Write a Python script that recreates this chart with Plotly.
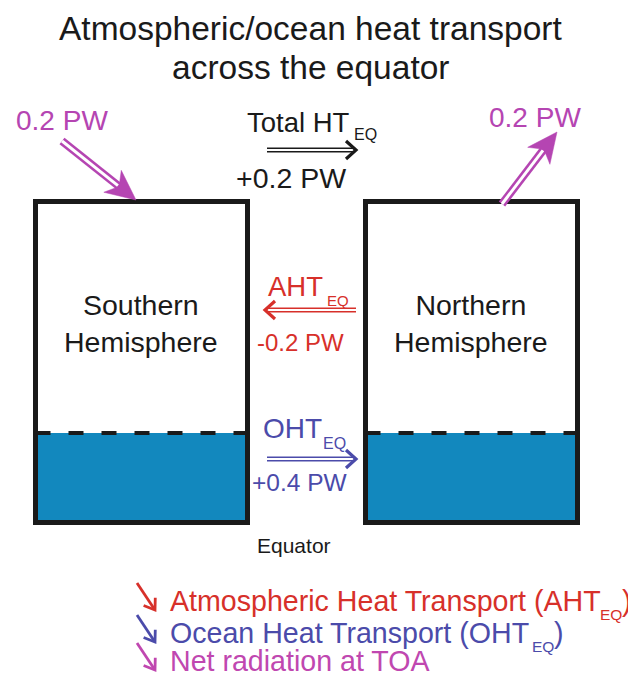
import plotly.graph_objects as go
import math

# ---------------- data ----------------
title_lines = ["Atmospheric/ocean heat transport", "across the equator"]
regions = ["Southern<br>Hemisphere", "Northern<br>Hemisphere"]
transport_names = ["Total HT", "AHT", "OHT"]
transport_values = [0.2, -0.2, 0.4]          # PW, positive = northward
toa_values = [0.2, -0.2]                      # PW, + = into SH, - = out of NH
SUB = "EQ"
legend_main = ["Atmospheric Heat Transport (AHT", "Ocean Heat Transport (OHT",
               "Net radiation at TOA"]
legend_has_sub = [True, True, False]

# ---------------- styles ----------------
FONT = "Liberation Sans, Arial, Helvetica, sans-serif"
BLACK = "#1a1a1a"
RED = "#D7302A"
BLUE = "#4B4BAA"
MAG = "#B545B2"
MAG_TXT = "#C047B0"
WATER = "#1288BE"
transport_colors = [BLACK, RED, BLUE]
legend_colors = [RED, BLUE, MAG_TXT]

W, H = 636, 676
OFF = 8  # page body margin compensation
fig = go.Figure()
shapes = []
annots = []


def text(x, y, s, size, color=BLACK, xanchor="center", yanchor="middle"):
    annots.append(dict(x=x, y=y, text=s, showarrow=False, xref="x", yref="y",
                       xanchor=xanchor, yanchor=yanchor,
                       font=dict(family=FONT, size=size, color=color)))


def line(x0, y0, x1, y1, color, width, dash=None):
    d = dict(type="line", x0=x0, y0=y0, x1=x1, y1=y1, xref="x", yref="y",
             line=dict(color=color, width=width))
    if dash:
        d["line"]["dash"] = dash
    shapes.append(d)


def path(pts, color, width=0, fill=None, closed=False):
    p = "M " + " L ".join(f"{x:.2f},{y:.2f}" for x, y in pts)
    if closed:
        p += " Z"
    shapes.append(dict(type="path", path=p, xref="x", yref="y",
                       line=dict(color=color, width=width),
                       fillcolor=fill if fill else "rgba(0,0,0,0)"))


def hollow_arrow(x0, y0, x1, y1, color, outer, inner, head="chevron",
                 hl=10, hw=10, hlw=3):
    L = math.hypot(x1 - x0, y1 - y0)
    ux, uy = (x1 - x0) / L, (y1 - y0) / L
    nx, ny = -uy, ux
    if head == "filled":
        notch = (x1 - ux * hl * 0.72, y1 - uy * hl * 0.72)
        ex, ey = notch[0] + ux * 1.5, notch[1] + uy * 1.5
        line(x0, y0, ex, ey, color, outer)
        line(x0, y0, ex - ux * 3, ey - uy * 3, "white", inner)
        bx, by = x1 - ux * hl, y1 - uy * hl
        pts = [(x1, y1), (bx + nx * hw / 2, by + ny * hw / 2), notch,
               (bx - nx * hw / 2, by - ny * hw / 2)]
        path(pts, color, 0.5, fill=color, closed=True)
    else:
        ex, ey = x1 - ux * 2.5, y1 - uy * 2.5
        line(x0, y0, ex, ey, color, outer)
        line(x0, y0, ex, ey, "white", inner)
        pts = [(x1 - ux * hl + nx * hw, y1 - uy * hl + ny * hw), (x1, y1),
               (x1 - ux * hl - nx * hw, y1 - uy * hl - ny * hw)]
        path(pts, color, hlw)


def simple_arrow(x0, y0, x1, y1, color, width=2.8, hl=10, hw=7):
    L = math.hypot(x1 - x0, y1 - y0)
    ux, uy = (x1 - x0) / L, (y1 - y0) / L
    nx, ny = -uy, ux
    line(x0, y0, x1 - ux * 1, y1 - uy * 1, color, width)
    pts = [(x1 - ux * hl + nx * hw, y1 - uy * hl + ny * hw), (x1, y1),
           (x1 - ux * hl - nx * hw, y1 - uy * hl - ny * hw)]
    path(pts, color, width)


# ---------------- layout geometry ----------------
boxes = [(35.5, 247.5), (365.5, 577.5)]
box_top, box_bot, water_y = 201.5, 522.5, 433

# water, boxes
for (bx0, bx1) in boxes:
    shapes.append(dict(type="rect", x0=bx0, x1=bx1, y0=water_y, y1=box_bot,
                       xref="x", yref="y", fillcolor=WATER, line=dict(width=0)))
    line(bx0, water_y, bx1, water_y, BLACK, 4, dash="15px,18px")
    shapes.append(dict(type="rect", x0=bx0, x1=bx1, y0=box_top, y1=box_bot,
                       xref="x", yref="y", line=dict(color=BLACK, width=5)))

# title
text(310, 28, title_lines[0], 33.5)
text(310, 67, title_lines[1], 33.5)

# hemisphere labels
for (bx0, bx1), lab in zip(boxes, regions):
    text((bx0 + bx1) / 2 - 0.5, 323, lab, 28.5)

# transport arrows across equator
arrow_y = [150, 310, 459]
name_xy = [(245, 122), (266, 286), (261, 428)]
name_sizes = [27.5, 27.5, 28]
sub_xy = [(352, 134), (325, 300), (321, 443)]
sub_sizes = [16, 15, 16]
val_xy = [(291, 178), (300, 342), (300, 482)]
val_sizes = [28.5, 24, 24.5]
x_left, x_right = 265, 356
for i, (nm, v) in enumerate(zip(transport_names, transport_values)):
    c = transport_colors[i]
    y = arrow_y[i]
    if v >= 0:
        hollow_arrow(x_left + 2, y, x_right, y, c, 5.2, 1.8, head="chevron",
                     hl=10, hw=9, hlw=3.2)
    else:
        hollow_arrow(x_right, y, x_left, y, c, 5.2, 1.8, head="chevron",
                     hl=10, hw=9, hlw=3.2)
    text(name_xy[i][0], name_xy[i][1], nm, name_sizes[i], c, xanchor="left")
    text(sub_xy[i][0], sub_xy[i][1], SUB, sub_sizes[i], c, xanchor="left")
    text(val_xy[i][0], val_xy[i][1], f"{v:+.1f} PW", val_sizes[i], c)

# TOA radiation arrows
toa_lbl_xy = [(62, 120), (535, 117)]
for i, v in enumerate(toa_values):
    if v > 0:
        hollow_arrow(62, 141, 136, 200, MAG, 8, 3, head="filled", hl=30, hw=28)
    else:
        hollow_arrow(502, 204, 557, 132, MAG, 8, 3, head="filled", hl=30, hw=28)
    text(toa_lbl_xy[i][0], toa_lbl_xy[i][1], f"{abs(v):.1f} PW", 28, MAG)

# equator label
text(294, 545, "Equator", 21)

# legend
leg_y = [601, 633, 661]
leg_sub_x = [598, 530]
leg_close_x = [620, 552]
for i, (lab, c, y) in enumerate(zip(legend_main, legend_colors, leg_y)):
    simple_arrow(137, y - 18, 155, y + 9, c)
    text(168, y, lab, 28.6, c, xanchor="left")
    if legend_has_sub[i]:
        text(leg_sub_x[i], y + 13, SUB, 15.5, c, xanchor="left")
        text(leg_close_x[i], y, ")", 28.6, c, xanchor="left")

fig.update_layout(
    width=W, height=H, margin=dict(l=0, r=0, t=0, b=0),
    paper_bgcolor="white", plot_bgcolor="white",
    xaxis=dict(range=[OFF, W + OFF], visible=False, fixedrange=True),
    yaxis=dict(range=[H + OFF, OFF], visible=False, fixedrange=True),
    shapes=shapes, annotations=annots, showlegend=False,
)
fig.write_html("out.html")
